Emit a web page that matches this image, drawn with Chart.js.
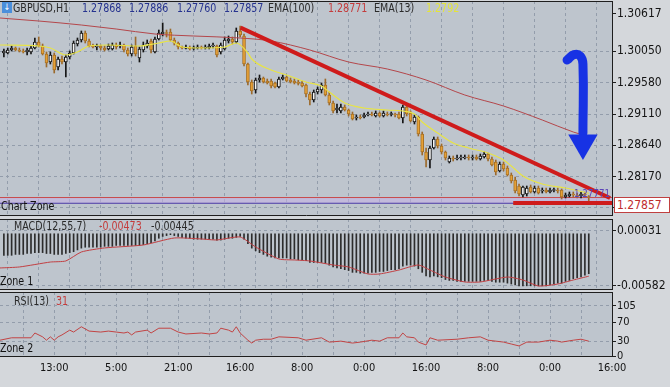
<!DOCTYPE html>
<html>
<head>
<meta charset="UTF-8">
<title>GBPUSD H1</title>
<script src="https://cdn.jsdelivr.net/npm/chart.js"></script>
<style>
  body { margin: 0; background: #d4d7db; }
  #wrap { position: relative; width: 670px; height: 387px; overflow: hidden;
          font-family: 'Liberation Sans Narrow', 'DejaVu Sans Condensed', 'Liberation Sans', sans-serif; }
  canvas { position: absolute; left: 0; }
  .lbl { position: absolute; white-space: nowrap; font-size: 12px; line-height: 14px; color: #2a2a2a; z-index: 5;
         transform: scaleX(0.88); transform-origin: 0 0; }
  .num { color: #26338f; }
  .red { color: #c43c3c; }
  .yel { color: #e4e43a; }
  #icon { position: absolute; left: 2px; top: 2px; width: 10px; height: 11px; background: #4b8fdb;
          color: #fff; font-size: 9px; line-height: 11px; text-align: center; z-index: 5; }
  #pricebox { position: absolute; left: 614px; top: 197px; width: 52px; height: 14px; background: #fff;
              border: 1px solid #c04040; color: #c02c2c; font-size: 12px; line-height: 14px; padding-left: 2px; z-index: 5; }
</style>
</head>
<body>
<div id="wrap">
  <canvas id="priceChart" style="top:0px" width="670" height="217"></canvas>
  <canvas id="macdChart" style="top:217px" width="670" height="74"></canvas>
  <canvas id="rsiChart" style="top:291px" width="670" height="96"></canvas>

  <div id="icon">&#8595;</div>
  <div class="lbl" style="left:13px;top:1px">GBPUSD,H1</div>
  <div class="lbl num" style="left:82px;top:1px">1.27868</div>
  <div class="lbl num" style="left:129px;top:1px">1.27886</div>
  <div class="lbl num" style="left:177px;top:1px">1.27760</div>
  <div class="lbl num" style="left:224px;top:1px">1.27857</div>
  <div class="lbl" style="left:268px;top:1px">EMA(100)</div>
  <div class="lbl red" style="left:328px;top:1px">1.28771</div>
  <div class="lbl" style="left:374px;top:1px">EMA(13)</div>
  <div class="lbl yel" style="left:426px;top:1px">1.2792</div>

  <div class="lbl" style="left:1px;top:199px;color:#111">Chart Zone</div>
  <div class="lbl" style="left:574px;top:187px;color:#5a44b8;font-size:11px">1.27771</div>
  <div id="pricebox">1.27857</div>

  <div class="lbl" style="left:14px;top:219px">MACD(12,55,7)</div>
  <div class="lbl red" style="left:99px;top:219px">-0.00473</div>
  <div class="lbl" style="left:151px;top:219px">-0.00445</div>
  <div class="lbl" style="left:0px;top:274px;color:#111">Zone 1</div>

  <div class="lbl" style="left:14px;top:294px">RSI(13)</div>
  <div class="lbl red" style="left:56px;top:294px">31</div>
  <div class="lbl" style="left:0px;top:341px;color:#111">Zone 2</div>
</div>

<script>
// ---- data (H1 candles, first candle sits at bar index 1) ----
const firstBar = 1;
const opens = [
  1.30025,1.30025,1.30070,1.30100,1.30070,1.30055,1.30040,1.30040,1.30100,1.30190,
  1.30130,1.30010,1.29890,1.29995,1.29815,1.29935,1.29890,1.29965,1.30025,1.30160,
  1.30220,1.30325,1.30205,1.30130,1.30115,1.30130,1.30100,1.30085,1.30085,1.30145,
  1.30130,1.30145,1.30070,1.30010,1.30130,1.29950,1.30070,1.30130,1.30205,1.30040,
  1.30235,1.30310,1.30325,1.30340,1.30220,1.30175,1.30115,1.30096,1.30108,1.30093,
  1.30100,1.30115,1.30100,1.30100,1.30130,1.30130,1.30040,1.30085,1.30205,1.30235,
  1.30190,1.30355,1.30280,1.29860,1.29590,1.29470,1.29620,1.29650,1.29605,1.29605,
  1.29575,1.29515,1.29635,1.29665,1.29620,1.29605,1.29590,1.29575,1.29545,1.29410,
  1.29320,1.29440,1.29470,1.29545,1.29395,1.29275,1.29170,1.29155,1.29215,1.29170,
  1.29110,1.29050,1.29065,1.29065,1.29095,1.29110,1.29080,1.29125,1.29080,1.29110,
  1.29103,1.29110,1.29110,1.29050,1.29215,1.29125,1.28990,1.29065,1.28810,1.28540,
  1.28420,1.28600,1.28735,1.28630,1.28540,1.28390,1.28450,1.28435,1.28450,1.28450,
  1.28465,1.28450,1.28465,1.28435,1.28465,1.28510,1.28435,1.28390,1.28255,1.28360,
  1.28300,1.28195,1.28120,1.28030,1.27895,1.27910,1.28015,1.27940,1.28000,1.27955,
  1.27970,1.27940,1.27963,1.27970,1.27970,1.27865,1.27880,1.27910,1.27895,1.27880,
  1.27910,1.27868
];
const highs = [
  1.30085,1.30100,1.30130,1.30115,1.30100,1.30085,1.30100,1.30130,1.30250,1.30265,
  1.30160,1.30040,1.30040,1.30025,1.29965,1.29980,1.29995,1.30055,1.30205,1.30250,
  1.30355,1.30355,1.30235,1.30160,1.30160,1.30145,1.30130,1.30160,1.30175,1.30175,
  1.30190,1.30160,1.30100,1.30145,1.30265,1.30115,1.30190,1.30220,1.30235,1.30265,
  1.30370,1.30475,1.30370,1.30385,1.30250,1.30190,1.30130,1.30145,1.30130,1.30130,
  1.30145,1.30130,1.30145,1.30160,1.30175,1.30145,1.30175,1.30265,1.30280,1.30265,
  1.30400,1.30430,1.30310,1.29875,1.29620,1.29650,1.29695,1.29665,1.29635,1.29635,
  1.29590,1.29665,1.29695,1.29680,1.29650,1.29635,1.29620,1.29605,1.29560,1.29440,
  1.29470,1.29515,1.29575,1.29635,1.29440,1.29305,1.29260,1.29260,1.29245,1.29185,
  1.29140,1.29095,1.29095,1.29125,1.29140,1.29140,1.29155,1.29140,1.29155,1.29140,
  1.29140,1.29125,1.29140,1.29245,1.29245,1.29155,1.29095,1.29080,1.28840,1.28600,
  1.28630,1.28765,1.28765,1.28660,1.28555,1.28480,1.28480,1.28495,1.28495,1.28495,
  1.28495,1.28495,1.28495,1.28510,1.28540,1.28525,1.28465,1.28420,1.28390,1.28390,
  1.28330,1.28225,1.28165,1.28060,1.28030,1.28030,1.28045,1.28030,1.28030,1.28000,
  1.28000,1.28000,1.28000,1.28000,1.27985,1.27925,1.27940,1.27940,1.27925,1.27940,
  1.27940,1.27886
];
const lows = [
  1.29965,1.30010,1.30055,1.30055,1.30040,1.30025,1.29995,1.30010,1.30085,1.30115,
  1.29995,1.29815,1.29860,1.29725,1.29770,1.29860,1.29665,1.29935,1.30010,1.30130,
  1.30190,1.30175,1.30115,1.30100,1.30070,1.30070,1.30055,1.30070,1.30070,1.30085,
  1.30100,1.30040,1.29980,1.29980,1.29980,1.29890,1.30040,1.30100,1.30025,1.30025,
  1.30220,1.30280,1.30265,1.30205,1.30145,1.30085,1.30085,1.30085,1.30070,1.30070,
  1.30085,1.30085,1.30085,1.30085,1.30100,1.29965,1.30010,1.30070,1.30175,1.30160,
  1.30175,1.30265,1.29830,1.29545,1.29410,1.29425,1.29590,1.29575,1.29560,1.29500,
  1.29500,1.29500,1.29620,1.29590,1.29575,1.29560,1.29545,1.29515,1.29365,1.29245,
  1.29290,1.29410,1.29425,1.29380,1.29245,1.29125,1.29125,1.29125,1.29155,1.29080,
  1.29020,1.29020,1.29035,1.29050,1.29080,1.29080,1.29065,1.29065,1.29065,1.29080,
  1.29080,1.29065,1.29035,1.28975,1.29080,1.28990,1.28960,1.28780,1.28495,1.28315,
  1.28300,1.28585,1.28600,1.28510,1.28420,1.28375,1.28405,1.28420,1.28420,1.28435,
  1.28420,1.28420,1.28420,1.28420,1.28450,1.28405,1.28330,1.28195,1.28240,1.28255,
  1.28180,1.28075,1.27925,1.27880,1.27865,1.27880,1.27925,1.27925,1.27910,1.27925,
  1.27925,1.27925,1.27940,1.27925,1.27835,1.27850,1.27865,1.27865,1.27850,1.27850,
  1.27865,1.27760
];
const closes = [
  1.30055,1.30070,1.30100,1.30070,1.30055,1.30040,1.30070,1.30100,1.30190,1.30130,
  1.30010,1.29875,1.29995,1.29770,1.29935,1.29890,1.29965,1.30025,1.30175,1.30220,
  1.30325,1.30205,1.30130,1.30115,1.30130,1.30100,1.30070,1.30130,1.30145,1.30115,
  1.30145,1.30070,1.30010,1.30115,1.30010,1.30085,1.30145,1.30175,1.30070,1.30235,
  1.30325,1.30340,1.30318,1.30220,1.30175,1.30115,1.30100,1.30103,1.30085,1.30100,
  1.30115,1.30100,1.30115,1.30130,1.30145,1.29995,1.30145,1.30220,1.30235,1.30190,
  1.30355,1.30295,1.29860,1.29590,1.29455,1.29620,1.29650,1.29590,1.29575,1.29530,
  1.29515,1.29635,1.29665,1.29605,1.29590,1.29575,1.29568,1.29530,1.29410,1.29320,
  1.29440,1.29485,1.29545,1.29395,1.29275,1.29155,1.29200,1.29215,1.29170,1.29110,
  1.29035,1.29065,1.29050,1.29095,1.29110,1.29095,1.29125,1.29080,1.29125,1.29095,
  1.29110,1.29095,1.29050,1.29215,1.29110,1.29005,1.29065,1.28810,1.28540,1.28420,
  1.28600,1.28735,1.28630,1.28540,1.28450,1.28450,1.28435,1.28450,1.28458,1.28465,
  1.28450,1.28465,1.28435,1.28480,1.28510,1.28435,1.28345,1.28240,1.28360,1.28285,
  1.28195,1.28105,1.27955,1.27910,1.28015,1.28000,1.27940,1.28000,1.27925,1.27970,
  1.27940,1.27970,1.27970,1.27955,1.27865,1.27895,1.27910,1.27895,1.27880,1.27910,
  1.27895,1.27857
];

// EMA(100) and EMA(13), read at a few bars
const emaSlowIdx = [0,10,21,30,40,50,62,70,80,90,100,110,120,130,140,148,152];
const emaSlow = [1.30550,1.30505,1.30445,1.30385,1.30310,1.30280,1.30250,1.30205,1.30070,1.29890,
                 1.29785,1.29620,1.29395,1.29230,1.29020,1.28840,1.28771];
const emaFastIdx = [0,10,13,17,20,23,28,36,41,44,47,52,58,61,64,65,70,74,79,83,85,89,94,100,104,107,
                    109,113,117,121,126,130,132,135,140,146,152];
const emaFast = [1.30145,1.30130,1.30100,1.29995,1.30040,1.30130,1.30145,1.30130,1.30175,1.30205,
                 1.30115,1.30100,1.30115,1.30175,1.30025,1.29935,1.29770,1.29695,1.29590,1.29530,
                 1.29440,1.29275,1.29200,1.29170,1.29155,1.29110,1.28990,1.28825,1.28675,1.28600,
                 1.28525,1.28420,1.28330,1.28180,1.28060,1.28000,1.27920];

// drawn objects: trend line, support line, levels, arrow
const trendIdx = [62.1, 157.5];
const trendPrice = [1.30405, 1.27850];
const supportIdx = [132.5, 158];
const supportPrice = [1.27775, 1.27775];
const bidPrice = 1.27857;
const zonePrice = 1.27771;
const arrowIdx = [146.4, 148.2, 149.8, 150.5, 150.5];
const arrowPrice = [1.29920, 1.30001, 1.29980, 1.29860, 1.28825];
const arrowHeadIdx = 150.5;
const arrowHeadPrice = 1.28675;

// MACD(12,55,7): histogram per bar, signal read at a few bars
const macdHist = [
  -0.0024,-0.0024,-0.0024,-0.0023,-0.0023,-0.0023,-0.0022,-0.0022,-0.0021,-0.0021,
  -0.0021,-0.0022,-0.0022,-0.0023,-0.0023,-0.0023,-0.0022,-0.0021,-0.0020,-0.0018,
  -0.0016,-0.0015,-0.0015,-0.0015,-0.0015,-0.0015,-0.0014,-0.0014,-0.0014,-0.0013,
  -0.0013,-0.0013,-0.0013,-0.0013,-0.0013,-0.0013,-0.0012,-0.0011,-0.0010,-0.0008,
  -0.0005,-0.0003,-0.0002,-0.0001,-0.0002,-0.0003,-0.0004,-0.0005,-0.0005,-0.0006,
  -0.0006,-0.0006,-0.0006,-0.0006,-0.0006,-0.0007,-0.0007,-0.0006,-0.0005,-0.0005,
  -0.0004,-0.0003,-0.0006,-0.0011,-0.0016,-0.0019,-0.0021,-0.0023,-0.0025,-0.0026,
  -0.0027,-0.0027,-0.0027,-0.0027,-0.0028,-0.0028,-0.0029,-0.0029,-0.0030,-0.0032,
  -0.0032,-0.0032,-0.0032,-0.0033,-0.0035,-0.0037,-0.0038,-0.0039,-0.0040,-0.0041,
  -0.0043,-0.0043,-0.0044,-0.0044,-0.0044,-0.0043,-0.0043,-0.0042,-0.0042,-0.0041,
  -0.0040,-0.0040,-0.0039,-0.0036,-0.0035,-0.0035,-0.0036,-0.0039,-0.0043,-0.0047,
  -0.0048,-0.0047,-0.0048,-0.0049,-0.0051,-0.0052,-0.0052,-0.0053,-0.0053,-0.0053,
  -0.0053,-0.0053,-0.0053,-0.0053,-0.0052,-0.0052,-0.0053,-0.0054,-0.0054,-0.0054,
  -0.0055,-0.0056,-0.0057,-0.0058,-0.0058,-0.0058,-0.0058,-0.0058,-0.0058,-0.0058,
  -0.0058,-0.0057,-0.0056,-0.0055,-0.0055,-0.0053,-0.0052,-0.0050,-0.0049,-0.0048,
  -0.0046,-0.00445
];
const macdSigIdx = [0,5,13,17,21,27,37,45,52,56,62,66,72,76,80,86,90,95,98,103,108,111,115,120,124,131,135,139,144,148,152];
const macdSig = [-0.00381,-0.00370,-0.00315,-0.00303,-0.00203,-0.00158,-0.00125,-0.00047,-0.00058,-0.00069,
                 -0.00036,-0.00147,-0.00281,-0.00292,-0.00303,-0.00348,-0.00370,-0.00448,-0.00448,-0.00404,
                 -0.00348,-0.00404,-0.00482,-0.00537,-0.00537,-0.00482,-0.00515,-0.00582,-0.00560,-0.00515,
                 -0.00473];

// RSI(13)
const rsiIdx = [0,3,8,9,11,12,13,14,15,16,18,19,21,23,26,28,30,32,33,34,35,38,39,41,44,46,48,52,54,56,
                57,59,60,61,62,64,65,66,68,70,72,77,79,83,85,88,91,93,96,98,100,103,104,105,107,108,110,111,113,118,
                121,124,126,130,132,134,136,139,142,144,145,148,150,152];
const rsiVal = [33,38,38,48,40,33,40,33,40,44,54,50,61,52,50,52,50,48,50,44,50,54,48,58,58,50,46,48,46,48,
                58,54,50,61,48,33,27,33,35,35,40,38,33,38,29,31,27,29,33,31,38,38,48,40,38,29,23,38,33,35,
                38,40,33,29,25,21,29,29,33,31,29,33,35,31];

// axes
const priceTicks = [1.27711, 1.28170, 1.28640, 1.29110, 1.29580, 1.30050, 1.30617];
const macdTicks = [-0.00582, 0.00031];
const rsiTicks = [0, 30, 70, 105];
const timeLabels = ['13:00','5:00','21:00','16:00','8:00','0:00','16:00','8:00','0:00','16:00'];
const timeLabelIdx = [14, 30, 46, 62, 78, 94, 110, 126, 142, 158];

// ---- style ----
const PLOT_BG = '#bec5cd';
const GRID = '#939dab';
const FRAME = '#1e1e1e';
const FONT = "'Liberation Sans Narrow', 'DejaVu Sans Condensed', 'Liberation Sans', sans-serif";
Chart.defaults.font.family = FONT;
Chart.defaults.animation = false;

const gridIdx = [];
for (let v = 6; v <= 158; v += 8) gridIdx.push(v);

const panelBg = {
  id: 'panelBg',
  beforeDraw(chart) {
    const {ctx, chartArea: a} = chart;
    ctx.save();
    ctx.fillStyle = PLOT_BG;
    ctx.fillRect(a.left, a.top, a.right - a.left, a.bottom - a.top);
    ctx.restore();
  },
  afterDraw(chart) {
    const {ctx, chartArea: a} = chart;
    ctx.save();
    ctx.strokeStyle = FRAME;
    ctx.lineWidth = 1;
    ctx.beginPath();
    ctx.moveTo(a.left, a.top + 0.5);
    ctx.lineTo(a.right, a.top + 0.5);
    ctx.stroke();
    ctx.restore();
  }
};

// no automatic padding for edge labels: panel edges are fixed
function noPad(s) {
  s.paddingTop = 0; s.paddingBottom = 0; s.paddingLeft = 0; s.paddingRight = 0;
}

function xAxis(withLabels) {
  return {
    type: 'linear', min: 0, max: 158, offset: false, bounds: 'data',
    afterBuildTicks: s => { s.ticks = gridIdx.map(v => ({value: v})); },
    afterFit: s => { s.height = withLabels ? 31 : 0; noPad(s); },
    grid: { color: GRID, lineWidth: 1, drawTicks: false },
    border: { display: true, color: FRAME, dash: [3, 3] },
    ticks: {
      display: withLabels, autoSkip: false, maxRotation: 0, padding: 6,
      color: '#141414', font: { size: 11 },
      callback: v => { const k = timeLabelIdx.indexOf(v); return k >= 0 ? timeLabels[k] : ''; }
    }
  };
}

function yAxis(min, max, ticks, fmt, size, hidden) {
  return {
    position: 'right', min, max, bounds: 'data',
    afterBuildTicks: s => { s.ticks = ticks.map(v => ({value: v})); },
    afterFit: s => { s.width = 58; noPad(s); },
    grid: {
      color: c => (c.tick && hidden.includes(c.tick.value)) ? 'rgba(0,0,0,0)' : GRID,
      drawTicks: true, tickLength: 4, tickColor: FRAME
    },
    border: { display: true, color: FRAME, dash: [3, 3] },
    ticks: { autoSkip: false, padding: 1, color: '#141414', font: { size: size }, callback: fmt }
  };
}

const pts = (idx, vals) => idx.map((x, k) => ({x: x, y: vals[k]}));
const bull = k => closes[k] >= opens[k];

const baseOptions = (scales, padding) => ({
  responsive: false,
  animation: false,
  layout: { padding: padding, autoPadding: false },
  plugins: { legend: { display: false }, tooltip: { enabled: false } },
  scales: scales
});

// ---- price panel ----
new Chart(document.getElementById('priceChart'), {
  type: 'bar',
  data: {
    datasets: [
      {
        type: 'line', label: 'bid', order: 20,
        data: [{x: 0, y: bidPrice}, {x: 158, y: bidPrice}],
        borderColor: '#c94a4a', borderWidth: 1, pointRadius: 0,
        fill: '+1', backgroundColor: 'rgba(196,176,232,0.55)'
      },
      {
        type: 'line', label: 'zone', order: 19,
        data: [{x: 0, y: zonePrice}, {x: 158, y: zonePrice}],
        borderColor: '#4b3ba6', borderWidth: 1, pointRadius: 0
      },
      {
        label: 'wick', order: 12, grouped: false,
        data: closes.map((c, k) => ({x: k + firstBar, y: [lows[k], highs[k]]})),
        barThickness: 1, borderWidth: 0,
        backgroundColor: c => bull(c.dataIndex) ? '#151515' : '#9c6a2c'
      },
      {
        label: 'body', order: 11, grouped: false,
        data: closes.map((c, k) => ({x: k + firstBar, y: [opens[k], c]})),
        barThickness: 3, borderWidth: 1, borderSkipped: false, minBarLength: 1,
        backgroundColor: c => bull(c.dataIndex) ? '#f4f4f4' : '#e6a137',
        borderColor: c => bull(c.dataIndex) ? '#151515' : '#a87226'
      },
      {
        type: 'line', label: 'EMA(100)', order: 6,
        data: pts(emaSlowIdx, emaSlow),
        borderColor: '#b4474b', borderWidth: 1, pointRadius: 0, cubicInterpolationMode: 'monotone'
      },
      {
        type: 'line', label: 'EMA(13)', order: 5,
        data: pts(emaFastIdx, emaFast),
        borderColor: '#e8e444', borderWidth: 1.2, pointRadius: 0, cubicInterpolationMode: 'monotone'
      },
      {
        type: 'line', label: 'trend', order: 4,
        data: pts(trendIdx, trendPrice),
        borderColor: '#cf1b1b', borderWidth: 4, pointRadius: 0
      },
      {
        type: 'line', label: 'support', order: 4,
        data: pts(supportIdx, supportPrice),
        borderColor: '#cf1b1b', borderWidth: 4, pointRadius: 0
      },
      {
        type: 'line', label: 'arrow', order: 2,
        data: pts(arrowIdx, arrowPrice),
        borderColor: '#1732e4', borderWidth: 9, pointRadius: 0, tension: 0.45, borderCapStyle: 'round'
      },
      {
        type: 'line', label: 'arrowhead', order: 1, showLine: false,
        data: [{x: arrowHeadIdx, y: arrowHeadPrice}],
        pointStyle: 'triangle', rotation: 180, pointRadius: 17,
        pointBackgroundColor: '#1732e4', pointBorderColor: '#1732e4', pointBorderWidth: 0
      }
    ]
  },
  options: baseOptions({
    x: xAxis(false),
    y: yAxis(1.27595, 1.30805, priceTicks, v => v.toFixed(5), 12, [1.30617])
  }, { top: 1, bottom: 2, left: 0, right: 0 }),
  plugins: [panelBg]
});

// ---- MACD panel ----
new Chart(document.getElementById('macdChart'), {
  type: 'bar',
  data: {
    datasets: [
      {
        label: 'MACD', order: 2, grouped: false,
        data: macdHist.map((v, k) => ({x: k + firstBar, y: v})),
        barThickness: 1, borderWidth: 0, backgroundColor: '#2c2c2c'
      },
      {
        type: 'line', label: 'Signal', order: 1,
        data: pts(macdSigIdx, macdSig),
        borderColor: '#c23f42', borderWidth: 1, pointRadius: 0, tension: 0.2
      }
    ]
  },
  options: baseOptions({
    x: xAxis(false),
    y: yAxis(-0.006155, 0.001647, macdTicks, v => v.toFixed(5), 12, [])
  }, { top: 2, bottom: 2, left: 0, right: 0 }),
  plugins: [panelBg]
});

// ---- RSI panel ----
new Chart(document.getElementById('rsiChart'), {
  type: 'line',
  data: {
    datasets: [
      {
        label: 'RSI(13)',
        data: pts(rsiIdx, rsiVal),
        borderColor: '#c24444', borderWidth: 1, pointRadius: 0
      }
    ]
  },
  options: baseOptions({
    x: xAxis(true),
    y: yAxis(0, 133.6, rsiTicks, v => String(v), 11, [])
  }, { top: 1, bottom: 0, left: 0, right: 0 }),
  plugins: [panelBg]
});
</script>
</body>
</html>
